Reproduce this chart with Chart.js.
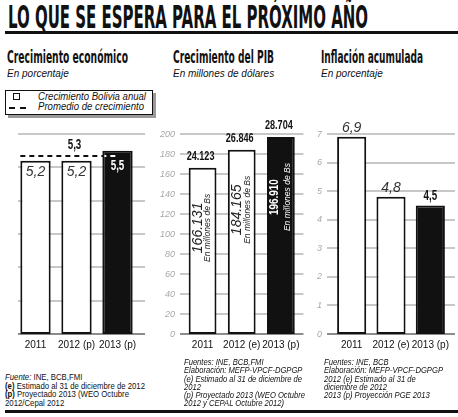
<!DOCTYPE html>
<html>
<head>
<meta charset="utf-8">
<script src="https://cdn.jsdelivr.net/npm/chart.js@4/dist/chart.umd.min.js"></script>
<style>
    body { margin: 0; background: #fff; }
    #page { position: relative; width: 458px; height: 417px; overflow: hidden; background: #fff; font-family: "Liberation Sans", Arial, sans-serif; color: #111; }
    .abs { position: absolute; line-height: 1; white-space: nowrap; }
    .cond { font-family: "DejaVu Sans Condensed", "Liberation Sans", sans-serif; font-weight: bold; }
    .fit { display: inline-block; transform-origin: 0 0; }
    .rule { position: absolute; background: #111; }
    canvas { position: absolute; }
    .nota { position: absolute; white-space: nowrap; }
</style>
</head>
<body>
<div id="page">
    <div class="abs cond fit" data-w="360" style="left:8px; top:1px; font-size:32px;">LO QUE SE ESPERA PARA EL PRÓXIMO AÑO</div>
    <div class="rule" style="left:5px; top:31px; width:453px; height:3px;"></div>

    <div class="abs cond fit" data-w="121" style="left:7px; top:48px; font-size:18px;">Crecimiento económico</div>
    <div class="abs cond fit" data-w="101" style="left:173px; top:48px; font-size:18px;">Crecimiento del PIB</div>
    <div class="abs cond fit" data-w="102" style="left:321px; top:48px; font-size:18px;">Inflación acumulada</div>

    <div class="abs" style="left:7px; top:68.5px; font-size:10px; font-style:italic;">En porcentaje</div>
    <div class="abs" style="left:173px; top:68.5px; font-size:10px; font-style:italic;">En millones de dólares</div>
    <div class="abs" style="left:321px; top:68.5px; font-size:10px; font-style:italic;">En porcentaje</div>

    <!-- leyenda del primer gráfico -->
    <div style="position:absolute; left:5px; top:90px; width:146px; height:23px; border:1px solid #111; box-shadow:3px 3px 0 #9a9a9a; background:#fff;"></div>
    <div style="position:absolute; left:13px; top:93px; width:5px; height:5px; border:1.5px solid #111;"></div>
    <div style="position:absolute; left:9px; top:107px; width:6px; height:2px; background:#111;"></div>
    <div style="position:absolute; left:20px; top:107px; width:6px; height:2px; background:#111;"></div>
    <div class="abs fit" data-w="108" style="left:38px; top:92px; font-size:10px; font-style:italic;">Crecimiento Bolivia anual</div>
    <div class="abs fit" data-w="106" style="left:38px; top:102px; font-size:10px; font-style:italic;">Promedio de crecimiento</div>

    <canvas id="crecimientoChart" width="152" height="260" style="left:0; top:100px;"></canvas>
    <canvas id="pibChart" width="153" height="260" style="left:152px; top:100px;"></canvas>
    <canvas id="inflacionChart" width="153" height="260" style="left:305px; top:100px;"></canvas>

    <div class="nota fit" data-w="140" style="left:5px; top:373px; font-size:9.5px; line-height:8.7px;">
        <i>Fuente:</i> INE, BCB,FMI<br>
        <b>(e)</b> Estimado al 31 de diciembre de 2012<br>
        <b>(p)</b> Proyectado 2013 (WEO Octubre<br>
        2012/Cepal 2012
    </div>
    <div class="nota fit" data-w="121" style="left:184px; top:358px; font-size:9.3px; line-height:8.3px; font-style:italic;">
        Fuentes: INE, BCB,FMI<br>
        Elaboración: MEFP-VPCF-DGPGP<br>
        (e) Estimado al 31 de diciembre de<br>
        2012<br>
        (p) Proyectado 2013 (WEO Octubre<br>
        2012 y CEPAL Octubre 2012)
    </div>
    <div class="nota fit" data-w="119" style="left:324px; top:358px; font-size:9.8px; line-height:8.3px; font-style:italic;">
        Fuentes: INE, BCB<br>
        Elaboración: MEFP-VPCF-DGPGP<br>
        2012 (e) Estimado al 31 de<br>
        diciembre de 2012<br>
        2013 (p) Proyección PGE 2013
    </div>
    <div class="rule" style="left:5px; top:410px; width:453px; height:3px;"></div>
</div>

<script>
// datos
var anios1 = ['2011', '2012 (p)', '2013 (p)'];
var anios = ['2011', '2012 (e)', '2013 (p)'];
var crecimiento = [5.2, 5.2, 5.5];
var promedioCrecimiento = 5.3;
var pibBs = [166.131, 184.165, 196.910];     // miles de millones de Bs (eje)
var pibUsd = [24123, 26846, 28704];          // millones de dólares
var inflacion = [6.9, 4.8, 4.5];

var SANS = '"Liberation Sans", Arial, sans-serif';
var rellenos = ['#ffffff', '#ffffff', '#111111'];

function coma(v) { return v.toFixed(1).replace('.', ','); }
function miles(n) { return String(n).replace(/\B(?=(\d{3})+(?!\d))/g, '.'); }

// texto negrita condensado (Arial estrechado)
function condText(ctx, txt, x, y, size, color, sx) {
    ctx.save();
    ctx.translate(x, y);
    ctx.scale(sx || 0.7, 1);
    ctx.font = 'bold ' + size + 'px ' + SANS;
    ctx.fillStyle = color;
    ctx.fillText(txt, 0, 0);
    ctx.restore();
}

// ajusta el ancho de los textos
document.querySelectorAll('[data-w]').forEach(function (el) {
    var w = el.getBoundingClientRect().width;
    el.style.transform = 'scaleX(' + (parseFloat(el.dataset.w) / w) + ')';
});

// líneas de la grilla, un poco más largas que el área del gráfico
Chart.register({
    id: 'gridExt',
    defaults: { from: 0, to: 0 },
    beforeDatasetsDraw: function (chart, args, opts) {
        var ctx = chart.ctx, y = chart.scales.y, a = chart.chartArea;
        ctx.save();
        y.ticks.forEach(function (t) {
            var py = Math.round(y.getPixelForValue(t.value));
            ctx.strokeStyle = t.value === 0 ? '#8c8c8c' : '#c8c8c8';
            ctx.lineWidth = 2;
            ctx.beginPath();
            ctx.moveTo(a.left + opts.from, py);
            ctx.lineTo(a.right + opts.to, py);
            ctx.stroke();
        });
        ctx.restore();
    }
});

function baseOptions(yMax, step, yWidth, padRight, showTicks, tickPad) {
    return {
        responsive: false,
        animation: false,
        layout: { padding: { top: 34, right: padRight, left: 0, bottom: 0 } },
        plugins: { legend: { display: false }, tooltip: { enabled: false } },
        scales: {
            x: {
                grid: { display: false, drawTicks: false },
                border: { display: false },
                ticks: {
                    color: '#111', padding: 5, autoSkip: false,
                    maxRotation: 0, minRotation: 0,
                    font: { family: SANS, size: 10 }
                },
                afterFit: function (s) { s.height = 26; }
            },
            y: {
                min: 0,
                max: yMax,
                grid: { display: false, drawTicks: false },
                border: { display: false },
                ticks: {
                    display: showTicks,
                    stepSize: step,
                    padding: tickPad,
                    color: '#a8a8a8',
                    font: { family: SANS, size: 9, style: 'italic' }
                },
                afterFit: function (s) { s.width = yWidth; }
            }
        }
    };
}

document.addEventListener("DOMContentLoaded", function () {
    // Crecimiento económico
    var opt1 = baseOptions(6, 1, 15, 14, false, 0);
    opt1.plugins.gridExt = { from: 3, to: 7 };
    new Chart(document.getElementById('crecimientoChart').getContext('2d'), {
        type: 'bar',
        data: {
            labels: anios1,
            datasets: [{
                data: crecimiento,
                backgroundColor: rellenos,
                borderColor: '#111',
                borderWidth: 2,
                borderSkipped: false,
                categoryPercentage: 1,
                barPercentage: 0.74
            }]
        },
        options: opt1,
        plugins: [{
            id: 'textos1',
            afterDatasetsDraw: function (chart) {
                var ctx = chart.ctx, meta = chart.getDatasetMeta(0), ys = chart.scales.y;
                ctx.save();
                ctx.textAlign = 'center';
                ctx.textBaseline = 'middle';
                meta.data.forEach(function (bar, i) {
                    if (i === 2) {
                        condText(ctx, coma(crecimiento[i]), bar.x, bar.y + 15, 14, '#fff');
                    } else {
                        ctx.font = 'italic 14px ' + SANS;
                        ctx.fillStyle = '#333';
                        ctx.fillText(coma(crecimiento[i]), bar.x, bar.y + 11);
                    }
                });
                // promedio de crecimiento
                var py = Math.round(ys.getPixelForValue(promedioCrecimiento)) - 1;
                var b0 = meta.data[0], b2 = meta.data[2];
                var x0 = b0.x - b0.width / 2, x1 = b2.x;
                ctx.lineWidth = 2;
                ctx.setLineDash([5, 4]);
                ctx.strokeStyle = '#111';
                ctx.beginPath(); ctx.moveTo(x0, py); ctx.lineTo(x1, py); ctx.stroke();
                ctx.save();
                ctx.beginPath();
                ctx.rect(b2.x - b2.width / 2 + 2, b2.y, b2.width, b2.base - b2.y);
                ctx.clip();
                ctx.strokeStyle = '#fff';
                ctx.beginPath(); ctx.moveTo(x0, py); ctx.lineTo(x1, py); ctx.stroke();
                ctx.restore();
                ctx.setLineDash([]);
                condText(ctx, coma(promedioCrecimiento), meta.data[1].x - 2, py - 11, 14, '#111');
                ctx.restore();
            }
        }]
    });
});

document.addEventListener("DOMContentLoaded", function () {
    // Crecimiento del PIB
    var opt2 = baseOptions(200, 20, 31, 3, true, 8);
    opt2.plugins.gridExt = { from: -3, to: 3 };
    new Chart(document.getElementById('pibChart').getContext('2d'), {
        type: 'bar',
        data: {
            labels: anios,
            datasets: [{
                data: pibBs,
                backgroundColor: rellenos,
                borderColor: '#111',
                borderWidth: 2,
                borderSkipped: false,
                categoryPercentage: 1,
                barPercentage: 0.71
            }]
        },
        options: opt2,
        plugins: [{
            id: 'textos2',
            afterDatasetsDraw: function (chart) {
                var ctx = chart.ctx, meta = chart.getDatasetMeta(0);
                ctx.save();
                meta.data.forEach(function (bar, i) {
                    // dólares encima de la barra
                    ctx.textAlign = 'center';
                    ctx.textBaseline = 'alphabetic';
                    condText(ctx, miles(pibUsd[i]), bar.x - 2, bar.y - 8, 13, '#111');
                    // bolivianos en vertical
                    var cy = bar.y + 60;
                    var negro = i === 2;
                    ctx.save();
                    ctx.translate(bar.x, cy);
                    ctx.rotate(-Math.PI / 2);
                    ctx.textBaseline = 'middle';
                    if (negro) {
                        condText(ctx, pibBs[i].toFixed(3), 0, -6, 13, '#fff', 0.76);
                    } else {
                        ctx.fillStyle = '#222';
                        ctx.font = 'italic 14px ' + SANS;
                        ctx.fillText(pibBs[i].toFixed(3), 0, -4.5);
                    }
                    ctx.fillStyle = negro ? '#fff' : '#222';
                    ctx.font = 'italic 8.5px ' + SANS;
                    ctx.fillText('En millones de Bs', 0, negro ? 6.5 : 5.5);
                    ctx.restore();
                });
                ctx.restore();
            }
        }]
    });
});

document.addEventListener("DOMContentLoaded", function () {
    // Inflación acumulada
    var opt3 = baseOptions(7, 1, 27, 8, true, 10);
    opt3.plugins.gridExt = { from: -5, to: 5 };
    new Chart(document.getElementById('inflacionChart').getContext('2d'), {
        type: 'bar',
        data: {
            labels: anios,
            datasets: [{
                data: inflacion,
                backgroundColor: rellenos,
                borderColor: '#111',
                borderWidth: 2,
                borderSkipped: false,
                categoryPercentage: 1,
                barPercentage: 0.74
            }]
        },
        options: opt3,
        plugins: [{
            id: 'textos3',
            afterDatasetsDraw: function (chart) {
                var ctx = chart.ctx, meta = chart.getDatasetMeta(0);
                ctx.save();
                ctx.textAlign = 'center';
                ctx.textBaseline = 'alphabetic';
                meta.data.forEach(function (bar, i) {
                    if (i === 2) {
                        condText(ctx, coma(inflacion[i]), bar.x, bar.y - 5, 14, '#111');
                    } else {
                        ctx.font = 'italic 14px ' + SANS;
                        ctx.fillStyle = '#333';
                        ctx.fillText(coma(inflacion[i]), bar.x, bar.y - 5);
                    }
                });
                ctx.restore();
            }
        }]
    });
});
</script>
</body>
</html>
